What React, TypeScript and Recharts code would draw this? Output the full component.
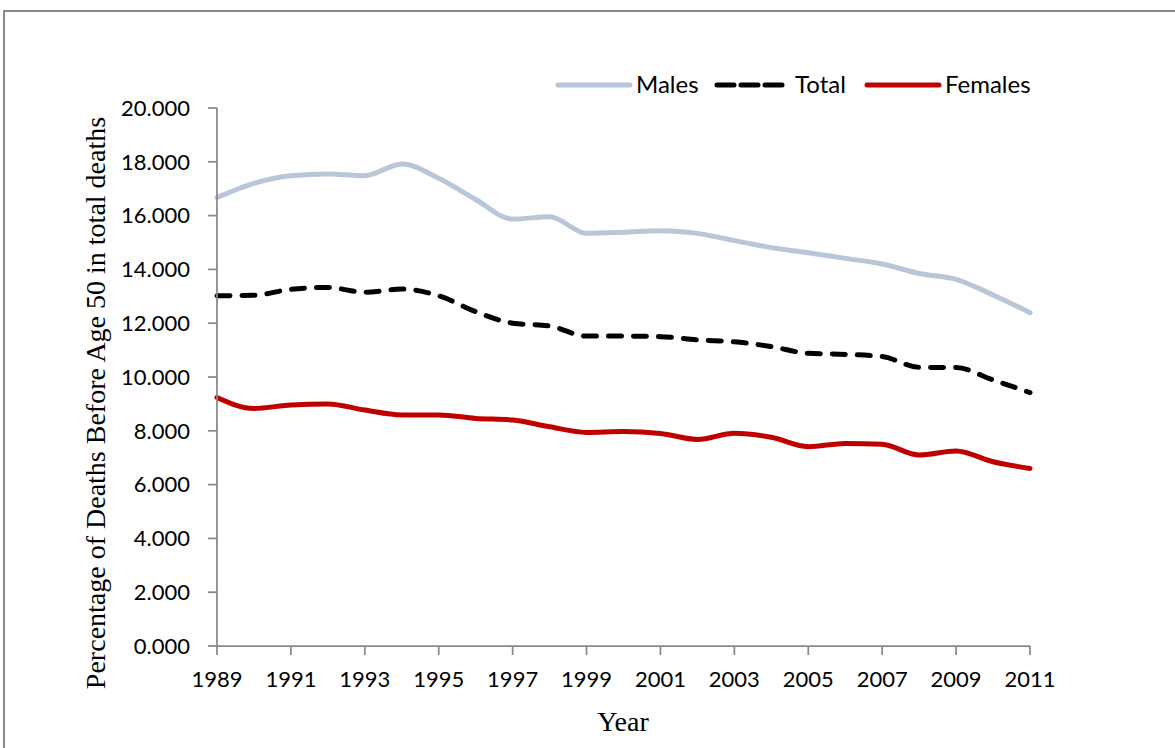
import React from "react";
import { LineChart, Line, XAxis, YAxis } from "recharts";

const years = [
  1989, 1990, 1991, 1992, 1993, 1994, 1995, 1996, 1997, 1998, 1999, 2000,
  2001, 2002, 2003, 2004, 2005, 2006, 2007, 2008, 2009, 2010, 2011,
];
const males = [
  16.67, 17.2, 17.48, 17.55, 17.48, 17.92, 17.39, 16.6, 15.87, 15.96, 15.34,
  15.38, 15.44, 15.34, 15.07, 14.81, 14.62, 14.41, 14.2, 13.85, 13.63, 13.05,
  12.39,
];
const total = [
  13.02, 13.04, 13.26, 13.33, 13.15, 13.27, 13.02, 12.43, 12.0, 11.9, 11.52,
  11.52, 11.5, 11.38, 11.31, 11.13, 10.88, 10.84, 10.76, 10.36, 10.35, 9.89,
  9.42,
];
const females = [
  9.24, 8.83, 8.96, 9.0, 8.77, 8.59, 8.59, 8.46, 8.4, 8.15, 7.94, 7.97, 7.9,
  7.68, 7.91, 7.76, 7.41, 7.53, 7.5, 7.1, 7.25, 6.85, 6.6,
];
const xTicks = [1989, 1991, 1993, 1995, 1997, 1999, 2001, 2003, 2005, 2007, 2009, 2011];
const yTicks = [0, 2, 4, 6, 8, 10, 12, 14, 16, 18, 20];

const series = [
  { key: "Males", color: "#b9c6d8", dash: undefined as string | undefined, legendX: 558 },
  { key: "Total", color: "#000000", dash: "13 12", legendX: 717 },
  { key: "Females", color: "#c00000", dash: undefined as string | undefined, legendX: 867 },
];

const data = years.map((year, i) => ({
  year,
  Males: males[i],
  Total: total[i],
  Females: females[i],
}));

const tickFont = { fontFamily: "Lato, sans-serif", fontSize: 22, fill: "#000" };
const axisGray = "#898989";
const serif = "'Liberation Serif', 'Times New Roman', serif";

export default function App() {
  return (
    <div
      style={{
        position: "absolute",
        left: 0,
        top: 0,
        width: 1175,
        height: 748,
        overflow: "hidden",
        background: "#fff",
      }}
    >
      <div
        style={{
          position: "absolute",
          left: 3,
          top: 10,
          width: 1200,
          height: 800,
          borderTop: `2px solid ${axisGray}`,
          borderLeft: `2px solid ${axisGray}`,
        }}
      />

      {/* legend */}
      {series.map((s) => (
        <div
          key={s.key}
          style={{
            position: "absolute",
            left: s.legendX - 3,
            top: 70,
            height: 30,
            display: "flex",
            alignItems: "center",
            fontFamily: "Lato, sans-serif",
            fontSize: 24,
            color: "#000",
            whiteSpace: "nowrap",
          }}
        >
          <svg width={78} height={10}>
            <line
              x1={3}
              y1={5}
              x2={75}
              y2={5}
              stroke={s.color}
              strokeWidth={5}
              strokeLinecap="round"
              strokeDasharray={s.key === "Total" ? "17 7" : undefined}
            />
          </svg>
          <span style={{ marginLeft: 3, marginTop: -3 }}>{s.key}</span>
        </div>
      ))}

      <div style={{ position: "absolute", left: 0, top: 0 }}>
        <LineChart
          width={1175}
          height={748}
          data={data}
          margin={{ top: 108, right: 145, bottom: 42, left: 0 }}
        >
          <XAxis
            dataKey="year"
            type="number"
            domain={[1989, 2011]}
            ticks={xTicks}
            interval={0}
            height={60}
            tickSize={9}
            tickMargin={16}
            tick={tickFont}
            stroke={axisGray}
            strokeWidth={1.75}
            label={{
              content: () => (
                <text
                  x={623}
                  y={731}
                  textAnchor="middle"
                  fontFamily={serif}
                  fontSize={28}
                  fill="#000"
                >
                  Year
                </text>
              ),
            }}
          />
          <YAxis
            domain={[0, 20]}
            ticks={yTicks}
            interval={0}
            width={217}
            tickSize={9}
            tickMargin={18}
            tick={tickFont}
            tickFormatter={(v: number) => v.toFixed(3)}
            stroke={axisGray}
            strokeWidth={1.75}
            label={{
              content: () => (
                <text
                  x={95}
                  y={403}
                  transform="rotate(-90, 95, 403)"
                  textAnchor="middle"
                  dominantBaseline="central"
                  fontFamily={serif}
                  fontSize={28}
                  fill="#000"
                >
                  Percentage of Deaths Before Age 50 in total deaths
                </text>
              ),
            }}
          />
          {series.map((s) => (
            <Line
              key={s.key}
              type="monotone"
              dataKey={s.key}
              stroke={s.color}
              strokeWidth={5}
              strokeDasharray={s.dash}
              strokeLinecap="round"
              dot={false}
              activeDot={false}
              isAnimationActive={false}
            />
          ))}
        </LineChart>
      </div>
    </div>
  );
}
